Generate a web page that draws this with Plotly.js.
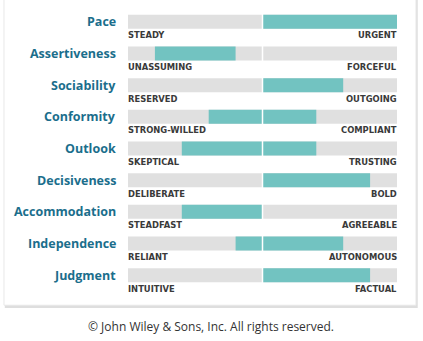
<!DOCTYPE html>
<html>
<head>
<meta charset="utf-8">
<script src="https://cdn.plot.ly/plotly-3.0.1.min.js"></script>
<style>html,body{margin:0;padding:0;background:#fff;}#chart{width:423px;height:341px;}</style>
</head>
<body>
<div id="chart"></div>
<script>
const traits = ["Pace","Assertiveness","Sociability","Conformity","Outlook","Decisiveness","Accommodation","Independence","Judgment"];
const lowLabels = ["STEADY","UNASSUMING","RESERVED","STRONG-WILLED","SKEPTICAL","DELIBERATE","STEADFAST","RELIANT","INTUITIVE"];
const highLabels = ["URGENT","FORCEFUL","OUTGOING","COMPLIANT","TRUSTING","BOLD","AGREEABLE","AUTONOMOUS","FACTUAL"];
const scoreStart = [0,-80,0,-40,-60,0,-60,-20,0];
const scoreEnd = [100,-20,60,40,40,80,0,60,80];
const scaleMin = -100;
const scaleMax = 100;
const footer = "© John Wiley & Sons, Inc. All rights reserved.";

const idx = traits.map((_, i) => i);
const barW = 0.443;

const track = {
  type: "bar", orientation: "h", y: idx,
  x: traits.map(() => scaleMax - scaleMin), base: traits.map(() => scaleMin),
  width: barW, marker: {color: "#e0e0e0"}, hoverinfo: "skip", showlegend: false
};
const score = {
  type: "bar", orientation: "h", y: idx,
  x: scoreEnd.map((e, i) => e - scoreStart[i]), base: scoreStart,
  width: barW, marker: {color: "#72c3c1"}, hoverinfo: "skip", showlegend: false
};

const ann = [];
traits.forEach((t, i) => {
  ann.push({xref: "paper", yref: "y", x: -0.037, y: i, text: t, showarrow: false,
    xanchor: "right", yanchor: "middle",
    font: {family: "Open Sans", size: 12.5, weight: 700, color: "#1b6e8c"}});
  ann.push({xref: "x", yref: "y", x: scaleMin, y: i + 0.43, text: lowLabels[i], showarrow: false,
    xanchor: "left", yanchor: "middle", xshift: -2,
    font: {family: "DejaVu Sans", size: 8.4, weight: 700, color: "#3a3a3a"}});
  ann.push({xref: "x", yref: "y", x: scaleMax, y: i + 0.43, text: highLabels[i], showarrow: false,
    xanchor: "right", yanchor: "middle", xshift: 2,
    font: {family: "DejaVu Sans", size: 8.4, weight: 700, color: "#3a3a3a"}});
});
ann.push({xref: "paper", yref: "paper", x: 0.309, y: -0.124, text: footer, showarrow: false,
  xanchor: "center", yanchor: "middle",
  font: {family: "Open Sans", size: 12, color: "#333333"}});

const shapes = [
  {type: "rect", xref: "paper", yref: "paper", x0: -0.458, x1: 1.077, y0: -0.06, y1: 1.03,
    fillcolor: "#dedede", line: {width: 0}, layer: "below"},
  {type: "rect", xref: "paper", yref: "paper", x0: -0.461, x1: 1.0706, y0: -0.0499, y1: 1.03,
    fillcolor: "#ffffff", line: {color: "#e8e8e8", width: 1}, layer: "below"},
  {type: "line", xref: "x", yref: "paper", x0: 0, x1: 0, y0: 0, y1: 1,
    line: {color: "#ffffff", width: 1.5}, layer: "above"}
];

const layout = {
  width: 423, height: 341,
  margin: {l: 128, r: 26, t: 6.2, b: 50.2},
  paper_bgcolor: "#ffffff", plot_bgcolor: "rgba(0,0,0,0)",
  barmode: "overlay",
  xaxis: {range: [scaleMin, scaleMax], showgrid: false, zeroline: false, showticklabels: false, fixedrange: true},
  yaxis: {range: [8.5, -0.5], showgrid: false, zeroline: false, showticklabels: false, fixedrange: true},
  annotations: ann, shapes: shapes
};

Plotly.newPlot("chart", [track, score], layout, {displayModeBar: false, staticPlot: true});
</script>
</body>
</html>
